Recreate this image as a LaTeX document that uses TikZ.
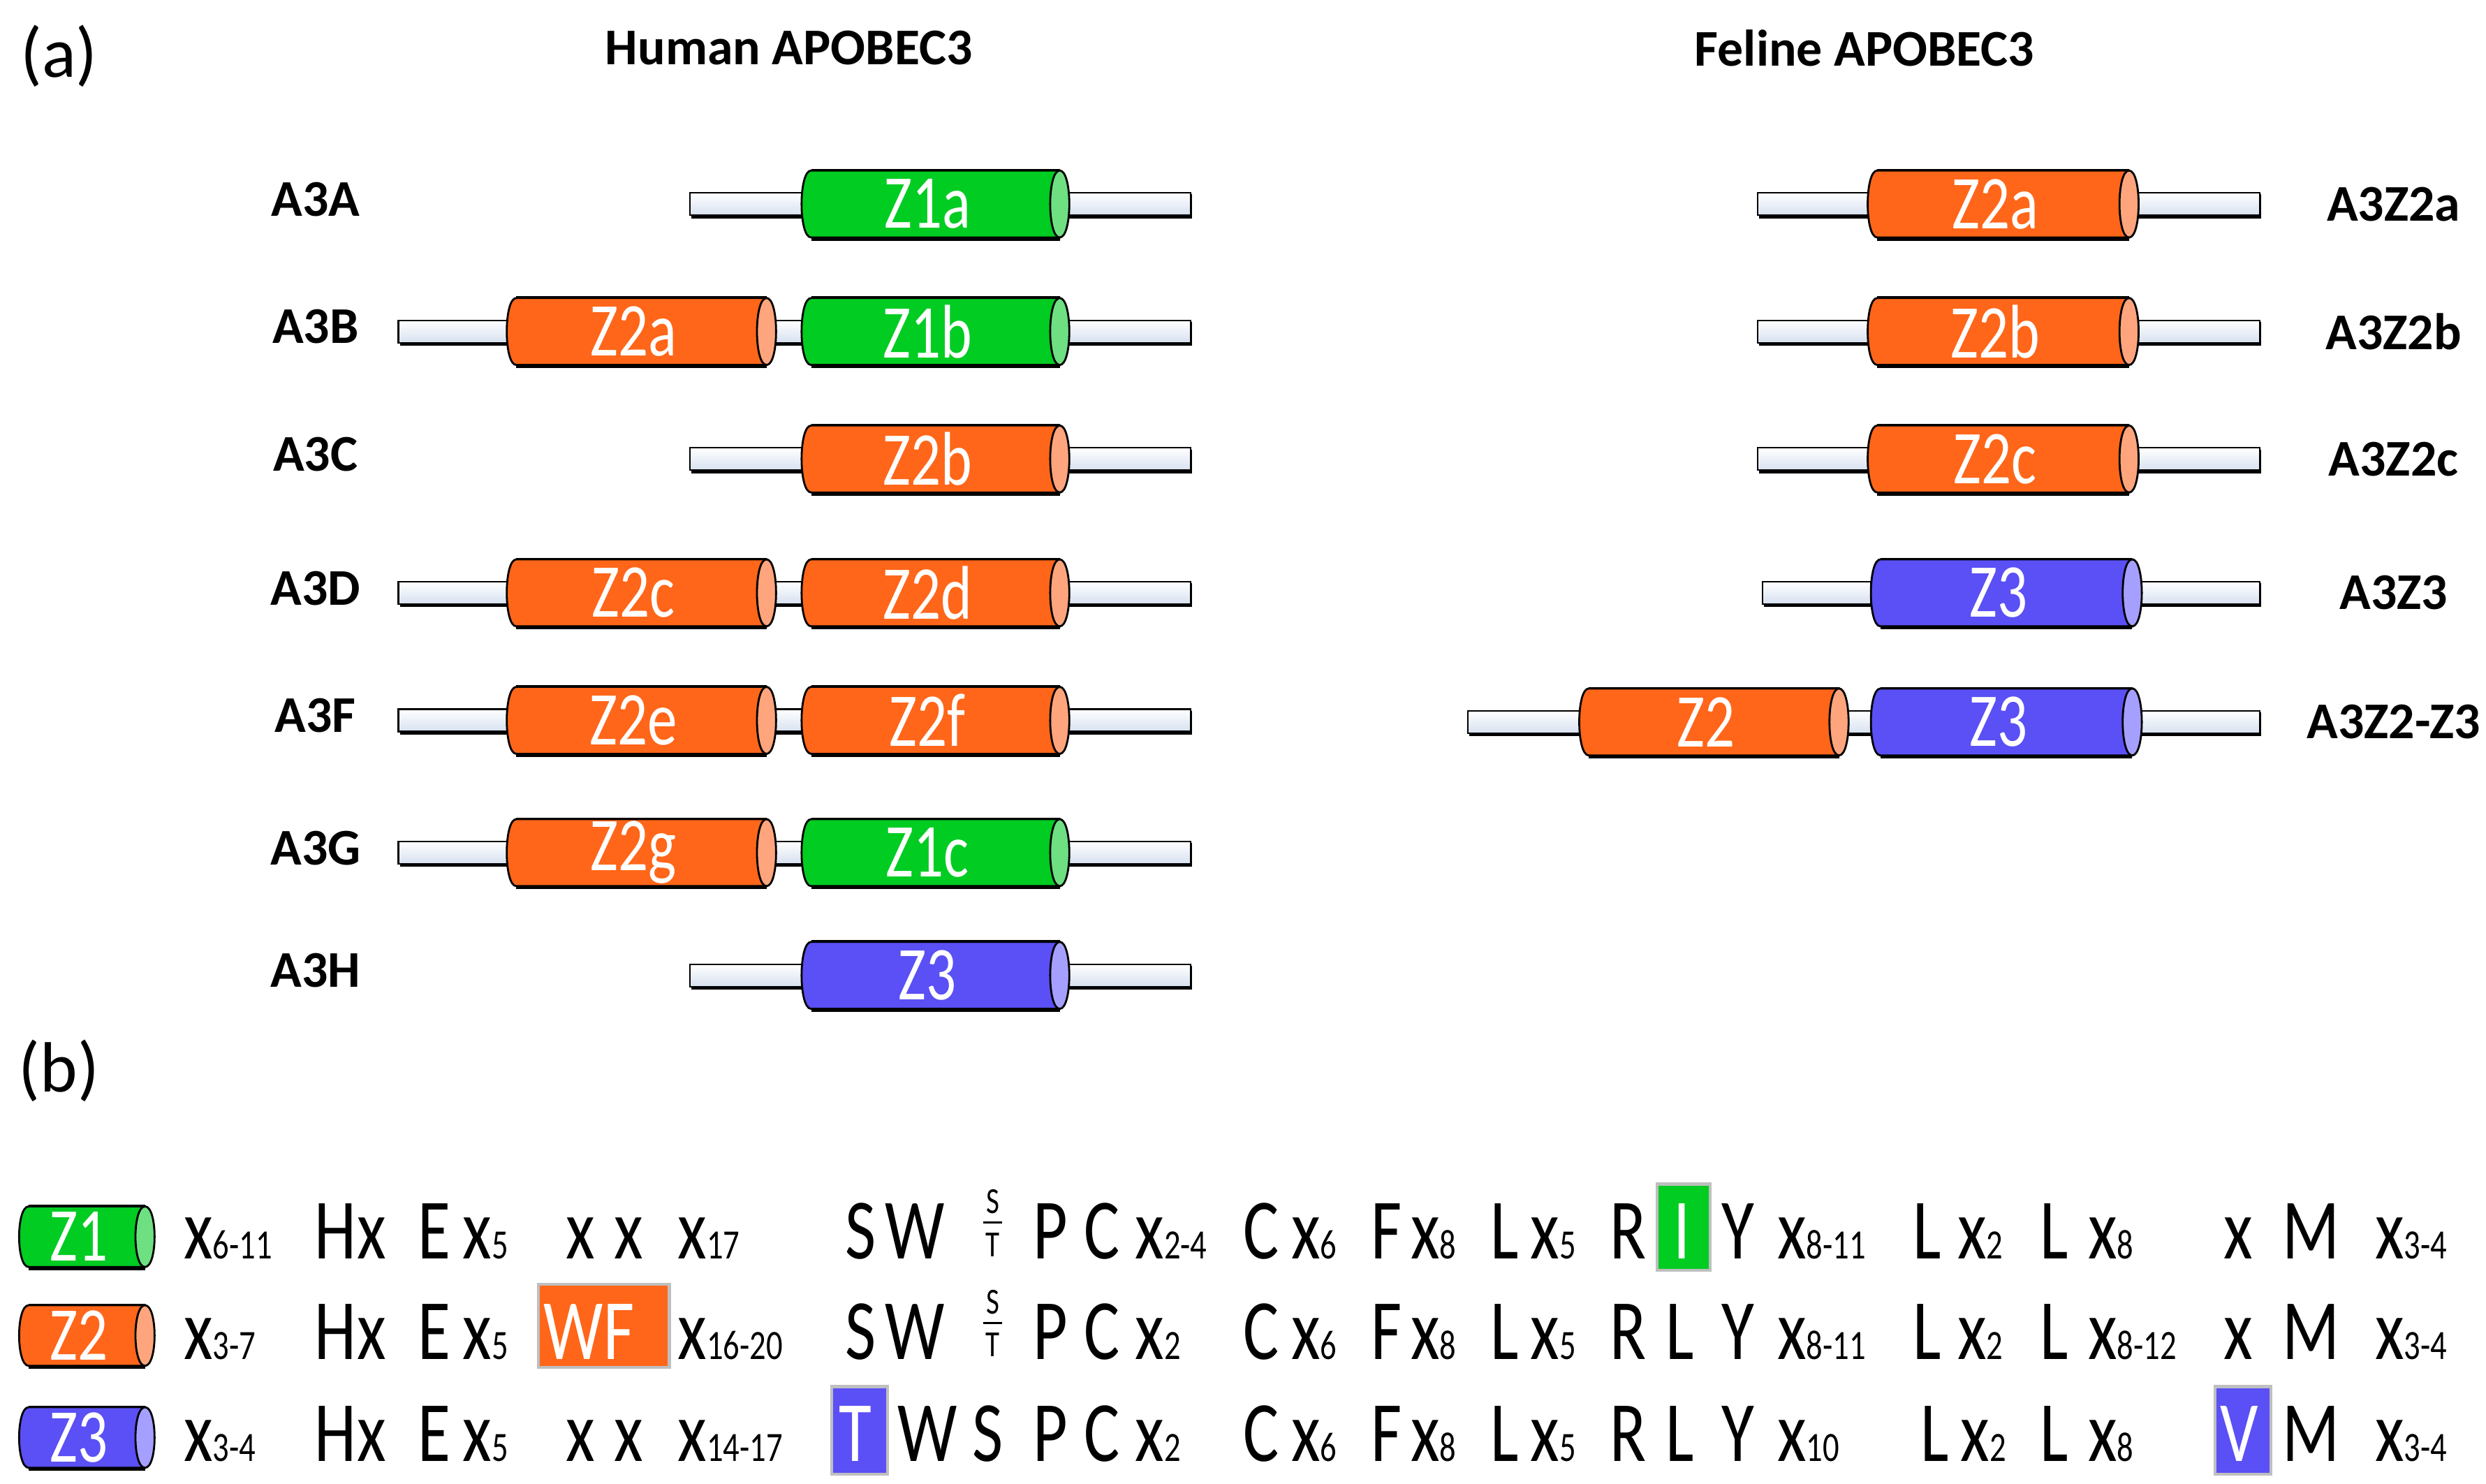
\documentclass[tikz,border=0pt]{standalone}
\usepackage{fontspec}
\setmainfont{Carlito}
\newfontfamily\seqfont[FakeStretch=0.78]{Carlito}
\newcommand{\sbs}[1]{{\fontsize{17}{17}\selectfont #1}}
\definecolor{zg}{RGB}{0,204,34}\definecolor{zgl}{RGB}{110,224,130}
\definecolor{zo}{RGB}{255,102,25}\definecolor{zol}{RGB}{255,165,125}
\definecolor{zb}{RGB}{90,80,245}\definecolor{zbl}{RGB}{165,160,255}
\definecolor{lk}{RGB}{215,225,240}
\tikzset{
 lab/.style={font=\bfseries\fontsize{21}{21}\selectfont,inner sep=0},
 cyltext/.style={font=\seqfont\fontsize{31}{31}\selectfont,text=white,inner sep=0},
 tok/.style={font=\seqfont\fontsize{35}{35}\selectfont,inner sep=0,anchor=base west},
 hbox/.style={draw=black!25,line width=1.2pt},
 stk/.style={font=\seqfont\fontsize{15}{15}\selectfont,inner sep=0},
}
\newcommand{\lnk}[3]{%
 \fill[black] (#1+1,#3-6) rectangle (#2+1,#3+9);
 \draw[black,line width=0.6pt,top color=white,bottom color=lk] (#1,#3-7) rectangle (#2,#3+7);}
\newcommand{\cyl}[8]{%
 \fill[black] (#2+6,#4-#5-1) rectangle (#3,#4+#5+2);
 \draw[fill=#6,line width=0.8pt] (#2+6,#4+#5) .. controls (#2-2,#4+#5) and (#2-2,#4-#5) .. (#2+6,#4-#5) -- (#3,#4-#5) -- (#3,#4+#5) -- cycle;
 \draw[fill=#7,line width=0.8pt] (#3,#4-#5) .. controls (#3+8,#4-#5) and (#3+8,#4+#5) .. (#3,#4+#5) .. controls (#3-8,#4+#5) and (#3-8,#4-#5) .. (#3,#4-#5);
 \node[cyltext] (#1) at ({(#2+#3)/2-2},#4) {#8};}
\begin{document}
\begin{tikzpicture}[x=0.02282cm,y=-0.02282cm]
\useasboundingbox (0,0) rectangle (1560,930.8);
\node[font=\fontsize{29}{29}\selectfont,inner sep=0] (la) at (37,35) {(a)};
\node[font=\fontsize{29}{29}\selectfont,inner sep=0] (lb) at (37,672) {(b)};
\node[lab] (th) at (495,30) {Human APOBEC3};
\node[lab] (tf) at (1170,30) {Feline APOBEC3};
\foreach \n/\y in {A3A/128,A3B/208,A3C/288,A3D/372,A3F/452,A3G/535,A3H/612}
 \node[lab] (h\n) at (198,\y-3) {\n};
\lnk{433}{505}{128}\lnk{665}{747}{128}\cyl{hz1a}{503}{665}{128}{21}{zg}{zgl}{Z1a}
\lnk{250}{320}{208}\lnk{480}{505}{208}\lnk{665}{747}{208}
\cyl{hz2a}{318}{481}{208}{21}{zo}{zol}{Z2a}\cyl{hz1b}{503}{665}{208}{21}{zg}{zgl}{Z1b}
\lnk{433}{505}{288}\lnk{665}{747}{288}\cyl{hz2b}{503}{665}{288}{21}{zo}{zol}{Z2b}
\lnk{250}{320}{372}\lnk{480}{505}{372}\lnk{665}{747}{372}
\cyl{hz2c}{318}{481}{372}{21}{zo}{zol}{Z2c}\cyl{hz2d}{503}{665}{372}{21}{zo}{zol}{Z2d}
\lnk{250}{320}{452}\lnk{480}{505}{452}\lnk{665}{747}{452}
\cyl{hz2e}{318}{481}{452}{21}{zo}{zol}{Z2e}\cyl{hz2f}{503}{665}{452}{21}{zo}{zol}{Z2f}
\lnk{250}{320}{535}\lnk{480}{505}{535}\lnk{665}{747}{535}
\cyl{hz2g}{318}{481}{535}{21}{zo}{zol}{Z2g}\cyl{hz1c}{503}{665}{535}{21}{zg}{zgl}{Z1c}
\lnk{433}{505}{612}\lnk{665}{747}{612}\cyl{hz3}{503}{665}{612}{21}{zb}{zbl}{Z3}
\foreach \n/\y/\c in {A3Z2a/128/1502,A3Z2b/208/1502,A3Z2c/288/1502,A3Z3/372/1502,A3Z2-Z3/453/1502}
 \node[lab] (f\n) at (\c,\y) {\n};
\lnk{1103}{1174}{128}\lnk{1336}{1418}{128}\cyl{fz2a}{1172}{1336}{128}{21}{zo}{zol}{Z2a}
\lnk{1103}{1174}{208}\lnk{1336}{1418}{208}\cyl{fz2b}{1172}{1336}{208}{21}{zo}{zol}{Z2b}
\lnk{1103}{1174}{288}\lnk{1336}{1418}{288}\cyl{fz2c}{1172}{1336}{288}{21}{zo}{zol}{Z2c}
\lnk{1106}{1174}{372}\lnk{1338}{1418}{372}\cyl{fz3}{1174}{1338}{372}{21}{zb}{zbl}{Z3}
\lnk{921}{993}{453}\lnk{1152}{1176}{453}\lnk{1338}{1418}{453}
\cyl{fz2}{991}{1154}{453}{21}{zo}{zol}{Z2}\cyl{fz3b}{1174}{1338}{453}{21}{zb}{zbl}{Z3}
\cyl{k1}{12}{91}{776}{19}{zg}{zgl}{Z1}
\cyl{k2}{12}{91}{838}{19}{zo}{zol}{Z2}
\cyl{k3}{12}{91}{902}{19}{zb}{zbl}{Z3}
\draw[hbox,fill=zg] (1040,743) rectangle (1073,797); \node[tok,text=white] (bI) at (1050,790) {I};
\draw[hbox,fill=zo] (338,806) rectangle (420,858); \node[tok,text=white] (bWF) at (341,853) {WF};
\draw[hbox,fill=zb] (522,870) rectangle (557,925); \node[tok,text=white] (bT) at (526,917) {T};
\draw[hbox,fill=zb] (1390,870) rectangle (1425,925); \node[tok,text=white] (bV) at (1393,917) {V};
\foreach \y/\k in {790/1,853/2}{
 \node[stk] (st\k s) at (623,\y-36) {S};
 \node[stk] (st\k t) at (623,\y-9) {T};
 \draw[line width=0.8pt] (617,\y-23) -- (629,\y-23);}
\foreach \x/\t [count=\i] in {115/{x\sbs{6-11}},197/H,224/x,262/E,290/{x\sbs{5}},355/x,385/x,425/{x\sbs{17}},530/S,555/W,648/P,680/C,712/{x\sbs{2-4}},780/C,810/{x\sbs{6}},860/F,885/{x\sbs{8}},935/L,960/{x\sbs{5}},1010/R,1080/Y,1115/{x\sbs{8-11}},1200/L,1228/{x\sbs{2}},1280/L,1310/{x\sbs{8}},1395/x,1432/M,1490/{x\sbs{3-4}}}
 \node[tok] (ra\i) at (\x,790) {\t};
\foreach \x/\t [count=\i] in {115/{x\sbs{3-7}},197/H,224/x,262/E,290/{x\sbs{5}},425/{x\sbs{16-20}},530/S,555/W,648/P,680/C,712/{x\sbs{2}},780/C,810/{x\sbs{6}},860/F,885/{x\sbs{8}},935/L,960/{x\sbs{5}},1010/R,1045/L,1080/Y,1115/{x\sbs{8-11}},1200/L,1228/{x\sbs{2}},1280/L,1310/{x\sbs{8-12}},1395/x,1432/M,1490/{x\sbs{3-4}}}
 \node[tok] (rb\i) at (\x,853) {\t};
\foreach \x/\t [count=\i] in {115/{x\sbs{3-4}},197/H,224/x,262/E,290/{x\sbs{5}},355/x,385/x,425/{x\sbs{14-17}},563/W,610/S,648/P,680/C,712/{x\sbs{2}},780/C,810/{x\sbs{6}},860/F,885/{x\sbs{8}},935/L,960/{x\sbs{5}},1010/R,1045/L,1080/Y,1115/{x\sbs{10}},1205/L,1230/{x\sbs{2}},1280/L,1310/{x\sbs{8}},1432/M,1490/{x\sbs{3-4}}}
 \node[tok] (rc\i) at (\x,917) {\t};
\end{tikzpicture}
\end{document}
